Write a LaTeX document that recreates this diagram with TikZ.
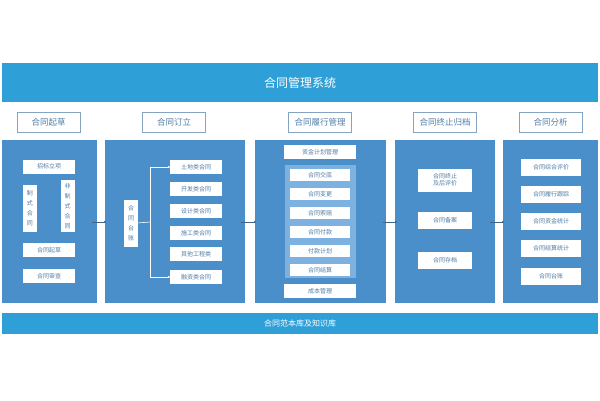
\documentclass[tikz,border=0pt]{standalone}
\usepackage{fontspec}
\setmainfont{Noto Sans CJK SC}
\usetikzlibrary{arrows.meta}
\definecolor{barblue}{HTML}{2F9FD8}
\definecolor{panelblue}{HTML}{4A8FC9}
\definecolor{innerblue}{HTML}{7DB2E0}
\definecolor{textblue}{HTML}{4F7DA6}
\tikzset{
  panel/.style={fill=panelblue, draw=none},
  head/.style={draw=textblue!70, fill=white, text=textblue, font=\fontsize{8.5}{10}\selectfont,
    minimum width=63pt, minimum height=20pt, line width=0.8pt},
  item/.style={fill=white, text=textblue, font=\fontsize{6}{7}\selectfont,
    minimum width=52pt, minimum height=14pt, inner sep=1pt, align=center},
  vitem/.style={fill=white, text=textblue, font=\fontsize{6}{10}\selectfont,
    minimum width=14pt, inner sep=1pt, align=center},
  link/.style={draw=textblue!80!black, line width=0.8pt, -{Latex[length=3pt]}},
  tree/.style={draw=white, line width=0.6pt}
}
\begin{document}
\begin{tikzpicture}[x=1pt,y=-1pt]
\useasboundingbox (0,0) rectangle (600,400);

% bars
\fill[barblue] (2,63) rectangle (598,102);
\node[text=white, font=\fontsize{12}{14}\selectfont] (title) at (300,83) {合同管理系统};
\fill[barblue] (2,313) rectangle (598,334);
\node[text=white, font=\fontsize{8}{10}\selectfont] (base) at (300,323.5) {合同范本库及知识库};

% headers
\node[head] (h1) at (48.5,122) {合同起草};
\node[head] (h2) at (174,122) {合同订立};
\node[head] (h3) at (320,122) {合同履行管理};
\node[head] (h4) at (445,122) {合同终止归档};
\node[head] (h5) at (550.5,122) {合同分析};

% panels
\fill[panel] (2,140) rectangle (97,303);
\fill[panel] (105,140) rectangle (245,303);
\fill[panel] (255,140) rectangle (386,303);
\fill[panel] (395,140) rectangle (495,303);
\fill[panel] (503,140) rectangle (598,303);
\coordinate (p1) at (92,222);
\coordinate (p2) at (257,222);
\coordinate (p2r) at (241,222);
\coordinate (p3r) at (383,222);
\coordinate (p4) at (398,222);
\coordinate (p4r) at (490,222);
\coordinate (p5) at (505,222);
\coordinate (p2l) at (107,222);

% draft
\node[item] (a1) at (49,166.5) {招标立项};
\node[vitem, minimum height=47pt] (a2) at (30,208.5) {制\\式\\合\\同};
\node[vitem, minimum height=52pt] (a3) at (67.5,206) {非\\制\\式\\合\\同};
\node[item] (a4) at (49,250) {合同起草};
\node[item] (a5) at (49,276) {合同审查};

% sign
\node[vitem, minimum height=47pt] (b0) at (131,223.5) {合\\同\\台\\账};
\coordinate (fork) at (150,222);
\foreach \t/\y [count=\i] in {土地类合同/167,开发类合同/189,设计类合同/211,施工类合同/233,其他工程类/254,融资类合同/277}{
  \node[item] (b\i) at (196,\y) {\t};
}
\draw[tree] (b0) -- (fork);
\draw[tree] (150,167) -- (150,277);
\draw[tree, -{Circle[length=2pt]}] (150,167) -- (b1.west);
\draw[tree, -{Circle[length=2pt]}] (150,277) -- (b6.west);

% perform
\node[item, minimum width=72pt] (c0) at (320,152) {资金计划管理};
\fill[innerblue] (285,165) rectangle (356,278);
\foreach \t/\y [count=\i] in {合同交底/175,合同变更/194,合同索赔/213,合同付款/232,付款计划/251,合同结算/270}{
  \node[item, minimum width=60pt, minimum height=12pt] (c\i) at (320,\y) {\t};
}
\node[item, minimum width=72pt] (c7) at (320,291) {成本管理};

% archive
\node[item, minimum width=54pt, minimum height=23pt] (d1) at (445,180) {合同终止\\及后评价};
\node[item, minimum width=54pt, minimum height=17pt] (d2) at (445,220) {合同备案};
\node[item, minimum width=54pt, minimum height=17pt] (d3) at (445,260) {合同存档};

% analysis
\foreach \t/\y [count=\i] in {合同综合评价/167,合同履行跟踪/194,合同资金统计/221,合同结算统计/248,合同台账/276}{
  \node[item, minimum width=60pt, minimum height=17pt] (e\i) at (551,\y) {\t};
}

% flow
\draw[link] (p1) -- (p2l);
\draw[link] (p2r) -- (p2);
\draw[link] (p3r) -- (p4);
\draw[link] (p4r) -- (p5);
\end{tikzpicture}
\end{document}
